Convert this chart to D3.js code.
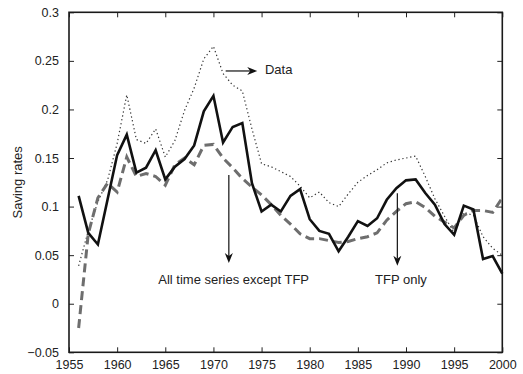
<!DOCTYPE html>
<html>
<head>
<meta charset="utf-8">
<script src="https://cdn.jsdelivr.net/npm/d3@7"></script>
<style>
  html, body { margin: 0; padding: 0; background: #fff; }
  svg { display: block; font-family: "Liberation Sans", Arial, Helvetica, sans-serif; }
</style>
</head>
<body>
<svg id="chart" width="523" height="374"></svg>
<script>
const years = d3.range(1956, 2001);
const dataSeries = [0.039,0.075,0.105,0.127,0.165,0.215,0.169,0.165,0.180,0.151,
  0.168,0.199,0.222,0.252,0.265,0.237,0.225,0.219,0.180,0.144,
  0.141,0.136,0.131,0.121,0.109,0.115,0.104,0.100,0.113,0.125,
  0.132,0.138,0.145,0.148,0.150,0.152,0.131,0.108,0.090,0.073,
  0.094,0.091,0.069,0.057,0.050];
const exceptTfp = [-0.025,0.072,0.109,0.124,0.115,0.151,0.131,0.134,0.131,0.122,
  0.143,0.150,0.143,0.163,0.164,0.150,0.140,0.129,0.120,0.112,
  0.102,0.091,0.082,0.072,0.067,0.067,0.065,0.063,0.064,0.067,
  0.069,0.073,0.086,0.095,0.103,0.105,0.099,0.090,0.084,0.078,
  0.091,0.096,0.096,0.094,0.109];
const tfpOnly = [0.111,0.073,0.061,0.107,0.153,0.174,0.135,0.140,0.158,0.128,
  0.141,0.149,0.163,0.198,0.214,0.166,0.182,0.186,0.124,0.095,
  0.102,0.095,0.111,0.118,0.087,0.075,0.072,0.054,0.069,0.085,
  0.080,0.088,0.107,0.119,0.127,0.128,0.114,0.102,0.082,0.071,
  0.101,0.097,0.046,0.049,0.031];
const xTicks = [1955,1960,1965,1970,1975,1980,1985,1990,1995,2000];
const yTicks = [-0.05,0,0.05,0.1,0.15,0.2,0.25,0.3];
const yLabel = "Saving rates";
const annotations = [
  {text: "Data", x0: 1971.27, y0: 0.2396, x1: 1974.55, y1: 0.2396, tx: 1975.35, ty: 0.2396, anchor: "start", baseline: "middle"},
  {text: "All time series except TFP", x0: 1971.6, y0: 0.1326, x1: 1971.6, y1: 0.0418, tx: 1964.27, ty: 0.0200, anchor: "start", baseline: "alphabetic"},
  {text: "TFP only", x0: 1989.1, y0: 0.1138, x1: 1989.1, y1: 0.0390, tx: 1986.78, ty: 0.0200, anchor: "start", baseline: "alphabetic"}
];

const svg = d3.select("#chart");
const m = {left: 69, top: 12.3, right: 523 - 502.3, bottom: 374 - 352.3};
const W = 523 - m.left - m.right, H = 374 - m.top - m.bottom;
const x = d3.scaleLinear().domain([1955, 2000]).range([0, W]);
const y = d3.scaleLinear().domain([-0.05, 0.3]).range([H, 0]);
const g = svg.append("g").attr("transform", `translate(${m.left},${m.top})`);

const fmt = v => v < 0 ? "\u2212" + String(Math.abs(v)) : (v === 0 ? "0" : String(v));

// axes (ticks inward)
const tl = 5;
const axB = g.append("g").attr("transform", `translate(0,${H})`)
  .call(d3.axisBottom(x).tickValues(xTicks).tickFormat(d3.format("d")).tickSizeInner(-tl).tickSizeOuter(0).tickPadding(8));
const axT = g.append("g")
  .call(d3.axisTop(x).tickValues(xTicks).tickFormat("").tickSizeInner(-tl).tickSizeOuter(0));
const axL = g.append("g")
  .call(d3.axisLeft(y).tickValues(yTicks).tickFormat(fmt).tickSizeInner(-tl).tickSizeOuter(0).tickPadding(10));
const axR = g.append("g").attr("transform", `translate(${W},0)`)
  .call(d3.axisRight(y).tickValues(yTicks).tickFormat("").tickSizeInner(-tl).tickSizeOuter(0));
[axB, axT, axL, axR].forEach(a => {
  a.select(".domain").remove();
  a.selectAll("line").attr("stroke", "#222").attr("stroke-width", 1);
  a.selectAll("text").attr("font-size", 12.5).attr("fill", "#222")
    .attr("font-family", "Liberation Sans, Arial, sans-serif");
});

// frame
g.append("rect").attr("x", 0).attr("y", 0).attr("width", W).attr("height", H)
  .attr("fill", "none").attr("stroke", "#1a1a1a").attr("stroke-width", 1.6);

const line = vals => d3.line().x((d, i) => x(years[i])).y(d => y(d))(vals);

g.append("path").attr("d", line(dataSeries)).attr("fill", "none")
  .attr("stroke", "#333").attr("stroke-width", 1.2).attr("stroke-dasharray", "1.3,2.7");
g.append("path").attr("d", line(exceptTfp)).attr("fill", "none")
  .attr("stroke", "#6e6e6e").attr("stroke-width", 3).attr("stroke-dasharray", "9,5");
g.append("path").attr("d", line(tfpOnly)).attr("fill", "none")
  .attr("stroke", "#111").attr("stroke-width", 2.6).attr("stroke-linejoin", "miter");

// annotations
annotations.forEach(a => {
  const X0 = x(a.x0), Y0 = y(a.y0), X1 = x(a.x1), Y1 = y(a.y1);
  const ang = Math.atan2(Y1 - Y0, X1 - X0);
  const L = 10, w = 4, back = 7;
  const ux = Math.cos(ang), uy = Math.sin(ang), px = -uy, py = ux;
  g.append("line").attr("x1", X0).attr("y1", Y0)
    .attr("x2", X1 - ux * back).attr("y2", Y1 - uy * back)
    .attr("stroke", "#111").attr("stroke-width", 1.2);
  const pts = [
    [X1, Y1],
    [X1 - ux * L + px * w, Y1 - uy * L + py * w],
    [X1 - ux * back, Y1 - uy * back],
    [X1 - ux * L - px * w, Y1 - uy * L - py * w]
  ];
  g.append("path").attr("d", "M" + pts.map(p => p.join(",")).join("L") + "Z").attr("fill", "#111");
  g.append("text").attr("x", x(a.tx)).attr("y", y(a.ty))
    .attr("text-anchor", a.anchor).attr("dominant-baseline", a.baseline)
    .attr("font-size", 13).attr("fill", "#222").text(a.text);
});

// y label
svg.append("text").attr("transform", `translate(22,${m.top + H / 2}) rotate(-90)`)
  .attr("text-anchor", "middle").attr("font-size", 13).attr("fill", "#222").text(yLabel);
</script>
</body>
</html>
